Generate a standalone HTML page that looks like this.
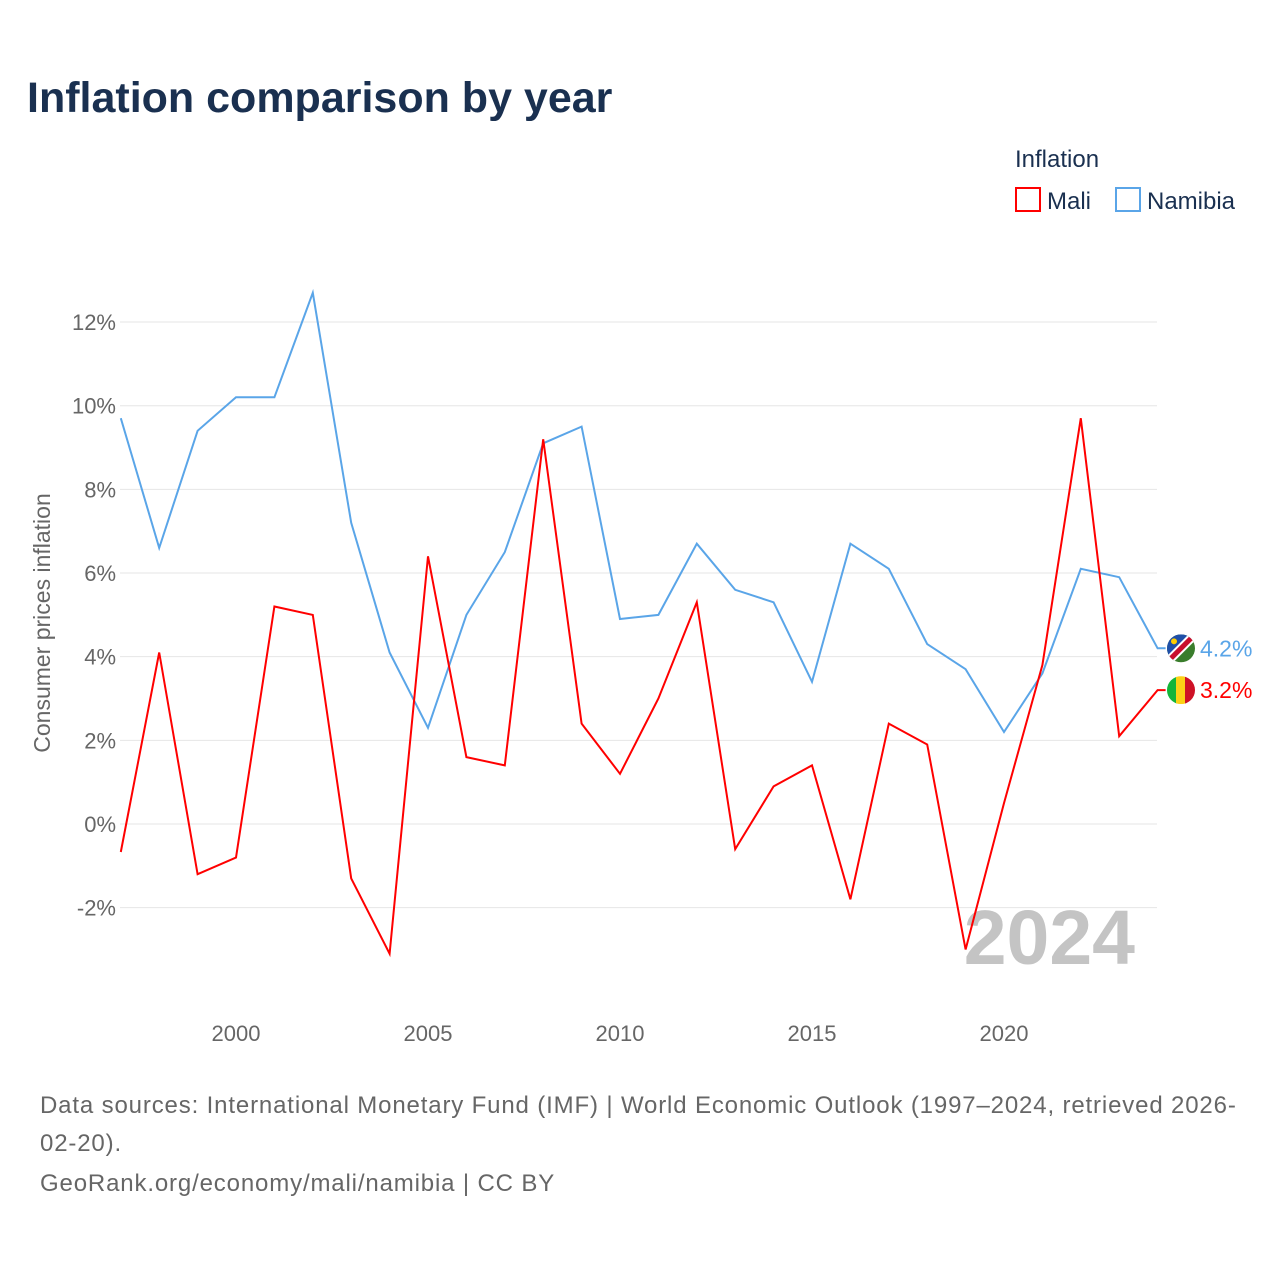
<!DOCTYPE html>
<html><head><meta charset="utf-8">
<style>
body{margin:0;background:#fff;font-family:"Liberation Sans",sans-serif;}
#wrap{position:relative;width:1280px;height:1280px;overflow:hidden;background:#fff}
</style></head>
<body>
<div id="wrap">
<svg id="chart" width="1280" height="1280" xmlns="http://www.w3.org/2000/svg"></svg>
</div>
<script>
const years=[1997,1998,1999,2000,2001,2002,2003,2004,2005,2006,2007,2008,2009,2010,2011,2012,2013,2014,2015,2016,2017,2018,2019,2020,2021,2022,2023,2024];
const mali=[-0.67,4.1,-1.2,-0.8,5.2,5.0,-1.3,-3.1,6.4,1.6,1.4,9.2,2.4,1.2,3.0,5.3,-0.6,0.9,1.4,-1.8,2.4,1.9,-3.0,0.5,3.8,9.7,2.1,3.2];
const namibia=[9.7,6.6,9.4,10.2,10.2,12.7,7.2,4.1,2.3,5.0,6.5,9.1,9.5,4.9,5.0,6.7,5.6,5.3,3.4,6.7,6.1,4.3,3.7,2.2,3.6,6.1,5.9,4.2];
const yTicks=[-2,0,2,4,6,8,10,12];
const xTicks=[2000,2005,2010,2015,2020];
const NS="http://www.w3.org/2000/svg";
const svg=document.getElementById('chart');
function X(y){return 120.8+(y-1997)*38.4;}
function Y(v){return 824-v*41.83;}
function el(t,a,p){const e=document.createElementNS(NS,t);for(const k in a)e.setAttribute(k,a[k]);(p||svg).appendChild(e);return e;}
function txt(x,y,s,a){const e=el('text',Object.assign({x:x,y:y},a));e.textContent=s;return e;}
let t=txt(27,112,'Inflation comparison by year',{'font-size':43,'font-weight':'bold',fill:'#1a3050'});


t=txt(1015,167,'Inflation',{'font-size':24,fill:'#1a3050'});


const lg1=el('g',{});


el('rect',{x:1016,y:188,width:24,height:23,fill:'none',stroke:'#ff0000','stroke-width':2},lg1);
lg1.appendChild(txt(1047,209,'Mali',{'font-size':24,fill:'#1a3050'}));
const lg2=el('g',{});


el('rect',{x:1116,y:188,width:24,height:23,fill:'none',stroke:'#5aa5e8','stroke-width':2},lg2);
lg2.appendChild(txt(1147,209,'Namibia',{'font-size':24,fill:'#1a3050'}));
yTicks.forEach(v=>{
  const g=el('line',{x1:120,x2:1157,y1:Y(v),y2:Y(v),stroke:'#e6e6e6','stroke-width':1});
  
  
  const l=txt(116,Y(v)+8,v+'%',{'font-size':22,fill:'#666','text-anchor':'end'});
  
  
});
xTicks.forEach(v=>{
  const l=txt(X(v),1041,String(v),{'font-size':22,fill:'#666','text-anchor':'middle'});
  
  
});
t=txt(0,0,'Consumer prices inflation',{'font-size':23,fill:'#666','text-anchor':'middle',transform:'translate(50,623) rotate(-90)'});


t=txt(1135,964,'2024',{'font-size':77,'font-weight':'bold',fill:'#c4c4c4','text-anchor':'end'});


function series(arr,color,name){
  let d=arr.map((v,i)=>(i?'L':'M')+X(years[i]).toFixed(1)+','+Y(v).toFixed(1)).join(' ');
  d+=' L'+(X(2024)+8)+','+Y(arr[arr.length-1]).toFixed(1);
  const p=el('path',{d:d,fill:'none',stroke:color,'stroke-width':2,'stroke-linejoin':'miter'});
  
  
}
series(namibia,'#5aa5e8','namibia');
series(mali,'#ff0000','mali');
const nv=namibia[namibia.length-1], mv=mali[mali.length-1];
const defs=el('defs',{});
const cpn=el('clipPath',{id:'cn'},defs);
el('circle',{cx:1181,cy:Y(nv),r:14},cpn);
const cpm=el('clipPath',{id:'cm'},defs);
el('circle',{cx:1181,cy:Y(mv),r:14},cpm);
const fn=el('g',{});


const gn=el('g',{'clip-path':'url(#cn)'},fn);
const cy=Y(nv);
el('rect',{x:1167,y:cy-14,width:28,height:28,fill:'#3a7d2c'},gn);
el('polygon',{points:`1167,${cy-14} 1195,${cy-14} 1167,${cy+14}`,fill:'#1f4fa8'},gn);
el('line',{x1:1165,y1:cy+16,x2:1197,y2:cy-16,stroke:'#fff','stroke-width':9},gn);
el('line',{x1:1165,y1:cy+16,x2:1197,y2:cy-16,stroke:'#c8102e','stroke-width':5},gn);
el('circle',{cx:1174,cy:cy-7,r:3,fill:'#ffce00'},gn);
const fm=el('g',{});


const my=Y(mv);
const gm=el('g',{'clip-path':'url(#cm)'},fm);
el('rect',{x:1167,y:my-14,width:10,height:28,fill:'#14b53a'},gm);
el('rect',{x:1176,y:my-14,width:10,height:28,fill:'#fcd116'},gm);
el('rect',{x:1185,y:my-14,width:10,height:28,fill:'#ce1126'},gm);
t=txt(1200,Y(nv)+8,nv.toFixed(1)+'%',{'font-size':23,fill:'#5aa5e8'});


t=txt(1200,Y(mv)+8,mv.toFixed(1)+'%',{'font-size':23,fill:'#ff0000'});


const src=[['Data sources: International Monetary Fund (IMF) | World Economic Outlook (1997–2024, retrieved 2026-',1113],['02-20).',1151],['GeoRank.org/economy/mali/namibia | CC BY',1191]];
src.forEach(s=>{const e=txt(40,s[1],s[0],{'font-size':24,fill:'#666','letter-spacing':'0.85'});

});
</script>
</body></html>
